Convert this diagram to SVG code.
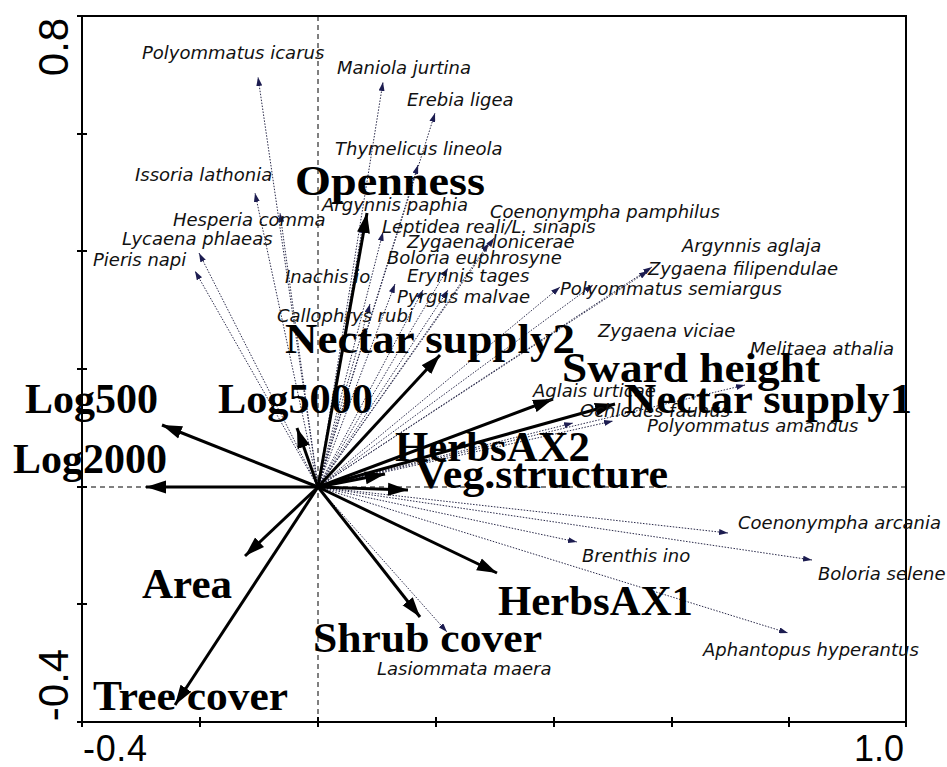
<svg xmlns="http://www.w3.org/2000/svg" width="947" height="767" viewBox="0 0 947 767">
<style>
.sp{font-family:"DejaVu Sans","Liberation Sans",sans-serif;font-style:italic;font-size:18px;fill:#111}
.env{font-family:"Liberation Serif","DejaVu Serif",serif;font-weight:bold;font-size:42px;fill:#000}
.tick{font-family:"Liberation Sans",Arial,sans-serif;font-size:36px;fill:#000}
.sa{stroke:#2a2a4a;stroke-width:1;stroke-dasharray:1.5 1.5;fill:none;marker-end:url(#sm)}
.ea{stroke:#000;stroke-width:3;fill:none;marker-end:url(#bg)}
.zero{stroke:#000;stroke-width:1;stroke-dasharray:5 4;fill:none}
.ax{stroke:#000;stroke-width:2;fill:none}
</style>
<defs>
<marker id="bg" markerUnits="userSpaceOnUse" markerWidth="20" markerHeight="14" refX="20" refY="7" orient="auto"><path d="M0,0.5 L20,7 L0,13.5 z" fill="#000"/></marker>
<marker id="sm" markerUnits="userSpaceOnUse" markerWidth="9" markerHeight="6" refX="9" refY="3" orient="auto"><path d="M0,0 L9,3 L0,6 z" fill="#1c1c50"/></marker>
</defs>
<rect width="947" height="767" fill="#fff"/>
<g id="axes">
<line class="zero" x1="318" y1="16" x2="318" y2="722"/>
<line class="zero" x1="82" y1="487" x2="906" y2="487"/>
<rect class="ax" x="82" y="16" width="824" height="706"/>
<path class="ax" d="M77,16H87M77,134H87M77,251H87M77,369H87M77,487H87M77,604H87M77,722H87M82,717V727M200,717V727M318,717V727M436,717V727M554,717V727M672,717V727M789,717V727M906,717V727"/>
<text class="tick" x="83" y="761" textLength="64">-0.4</text>
<text class="tick" x="904" y="761" text-anchor="end">1.0</text>
<text class="tick" transform="translate(68,47) rotate(-90)" text-anchor="middle" style="font-size:42px">0.8</text>
<text class="tick" transform="translate(68,685) rotate(-90)" text-anchor="middle" style="font-size:42px">-0.4</text>
</g>
<g id="connectors">
<line class="sa" x1="318" y1="487" x2="258" y2="77"/>
<line class="sa" x1="318" y1="487" x2="383" y2="82"/>
<line class="sa" x1="318" y1="487" x2="435" y2="113"/>
<line class="sa" x1="318" y1="487" x2="418" y2="165"/>
<line class="sa" x1="318" y1="487" x2="255" y2="193"/>
<line class="sa" x1="318" y1="487" x2="280" y2="213"/>
<line class="sa" x1="318" y1="487" x2="199" y2="253"/>
<line class="sa" x1="318" y1="487" x2="195" y2="271"/>
<line class="sa" x1="318" y1="487" x2="363" y2="224"/>
<line class="sa" x1="318" y1="487" x2="383" y2="232"/>
<line class="sa" x1="318" y1="487" x2="489" y2="243"/>
<line class="sa" x1="318" y1="487" x2="494" y2="238"/>
<line class="sa" x1="318" y1="487" x2="448" y2="268"/>
<line class="sa" x1="318" y1="487" x2="423" y2="290"/>
<line class="sa" x1="318" y1="487" x2="448" y2="290"/>
<line class="sa" x1="318" y1="487" x2="395" y2="284"/>
<line class="sa" x1="318" y1="487" x2="370" y2="304"/>
<line class="sa" x1="318" y1="487" x2="652" y2="267"/>
<line class="sa" x1="318" y1="487" x2="648" y2="271"/>
<line class="sa" x1="318" y1="487" x2="560" y2="287"/>
<line class="sa" x1="318" y1="487" x2="593" y2="285"/>
<line class="sa" x1="318" y1="487" x2="745" y2="385"/>
<line class="sa" x1="318" y1="487" x2="548" y2="401"/>
<line class="sa" x1="318" y1="487" x2="573" y2="423"/>
<line class="sa" x1="318" y1="487" x2="613" y2="421"/>
<line class="sa" x1="318" y1="487" x2="728" y2="533"/>
<line class="sa" x1="318" y1="487" x2="577" y2="542"/>
<line class="sa" x1="318" y1="487" x2="812" y2="560"/>
<line class="sa" x1="318" y1="487" x2="788" y2="633"/>
<line class="sa" x1="318" y1="487" x2="447" y2="632"/>
<line class="ea" x1="318" y1="487" x2="367" y2="213"/>
<line class="ea" x1="318" y1="487" x2="440" y2="355"/>
<line class="ea" x1="318" y1="487" x2="553" y2="399"/>
<line class="ea" x1="318" y1="487" x2="615" y2="404"/>
<line class="ea" x1="318" y1="487" x2="385" y2="474"/>
<line class="ea" x1="318" y1="487" x2="408" y2="490"/>
<line class="ea" x1="318" y1="487" x2="297" y2="428"/>
<line class="ea" x1="318" y1="487" x2="162" y2="425"/>
<line class="ea" x1="318" y1="487" x2="146" y2="487"/>
<line class="ea" x1="318" y1="487" x2="245" y2="556"/>
<line class="ea" x1="318" y1="487" x2="175" y2="705"/>
<line class="ea" x1="318" y1="487" x2="420" y2="617"/>
<line class="ea" x1="318" y1="487" x2="497" y2="573"/>
</g>
<g id="polyommatus-icarus"><text class="sp" x="142" y="59">Polyommatus icarus</text></g>
<g id="maniola-jurtina"><text class="sp" x="337" y="74">Maniola jurtina</text></g>
<g id="erebia-ligea"><text class="sp" x="407" y="106">Erebia ligea</text></g>
<g id="thymelicus-lineola"><text class="sp" x="335" y="155">Thymelicus lineola</text></g>
<g id="issoria-lathonia"><text class="sp" x="135" y="181">Issoria lathonia</text></g>
<g id="hesperia-comma"><text class="sp" x="173" y="226">Hesperia comma</text></g>
<g id="lycaena-phlaeas"><text class="sp" x="122" y="245">Lycaena phlaeas</text></g>
<g id="pieris-napi"><text class="sp" x="93" y="266">Pieris napi</text></g>
<g id="argynnis-paphia"><text class="sp" x="322" y="211">Argynnis paphia</text></g>
<g id="leptidea"><text class="sp" x="382" y="233">Leptidea reali/L. sinapis</text></g>
<g id="zygaena-lonicerae"><text class="sp" x="407" y="248">Zygaena lonicerae</text></g>
<g id="coenonympha-pamphilus"><text class="sp" x="490" y="218">Coenonympha pamphilus</text></g>
<g id="boloria-euphrosyne"><text class="sp" x="387" y="264">Boloria euphrosyne</text></g>
<g id="erynnis-tages"><text class="sp" x="407" y="282">Erynnis tages</text></g>
<g id="pyrgus-malvae"><text class="sp" x="397" y="303">Pyrgus malvae</text></g>
<g id="inachis-io"><text class="sp" x="285" y="283">Inachis io</text></g>
<g id="callophrys-rubi"><text class="sp" x="277" y="322">Callophrys rubi</text></g>
<g id="argynnis-aglaja"><text class="sp" x="682" y="252">Argynnis aglaja</text></g>
<g id="zygaena-filipendulae"><text class="sp" x="648" y="275">Zygaena filipendulae</text></g>
<g id="polyommatus-semiargus"><text class="sp" x="560" y="295">Polyommatus semiargus</text></g>
<g id="zygaena-viciae"><text class="sp" x="598" y="337">Zygaena viciae</text></g>
<g id="melitaea-athalia"><text class="sp" x="750" y="355">Melitaea athalia</text></g>
<g id="aglais-urticae"><text class="sp" x="533" y="397">Aglais urticae</text></g>
<g id="ochlodes-faunus"><text class="sp" x="580" y="417">Ochlodes faunus</text></g>
<g id="polyommatus-amandus"><text class="sp" x="647" y="432">Polyommatus amandus</text></g>
<g id="coenonympha-arcania"><text class="sp" x="738" y="529">Coenonympha arcania</text></g>
<g id="brenthis-ino"><text class="sp" x="582" y="562">Brenthis ino</text></g>
<g id="boloria-selene"><text class="sp" x="818" y="580">Boloria selene</text></g>
<g id="aphantopus-hyperantus"><text class="sp" x="703" y="656">Aphantopus hyperantus</text></g>
<g id="lasiommata-maera"><text class="sp" x="377" y="675">Lasiommata maera</text></g>
<g id="openness"><text class="env" x="295" y="195" textLength="190" lengthAdjust="spacingAndGlyphs">Openness</text></g>
<g id="nectar-supply2"><text class="env" x="285" y="353" textLength="290" lengthAdjust="spacingAndGlyphs">Nectar supply2</text></g>
<g id="sward-height"><text class="env" x="562" y="382" textLength="258" lengthAdjust="spacingAndGlyphs">Sward height</text></g>
<g id="nectar-supply1"><text class="env" x="624" y="413" textLength="288" lengthAdjust="spacingAndGlyphs">Nectar supply1</text></g>
<g id="log500"><text class="env" x="25" y="413" textLength="133" lengthAdjust="spacingAndGlyphs">Log500</text></g>
<g id="log5000"><text class="env" x="218" y="413" textLength="155" lengthAdjust="spacingAndGlyphs">Log5000</text></g>
<g id="log2000"><text class="env" x="13" y="473" textLength="154" lengthAdjust="spacingAndGlyphs">Log2000</text></g>
<g id="herbsax2"><text class="env" x="395" y="461" textLength="195" lengthAdjust="spacingAndGlyphs">HerbsAX2</text></g>
<g id="veg-structure"><text class="env" x="415" y="488" textLength="253" lengthAdjust="spacingAndGlyphs">Veg.structure</text></g>
<g id="area"><text class="env" x="142" y="598" textLength="90" lengthAdjust="spacingAndGlyphs">Area</text></g>
<g id="tree-cover"><text class="env" x="93" y="710" textLength="195" lengthAdjust="spacingAndGlyphs">Tree cover</text></g>
<g id="shrub-cover"><text class="env" x="313" y="652" textLength="229" lengthAdjust="spacingAndGlyphs">Shrub cover</text></g>
<g id="herbsax1"><text class="env" x="498" y="615" textLength="195" lengthAdjust="spacingAndGlyphs">HerbsAX1</text></g>
</svg>
